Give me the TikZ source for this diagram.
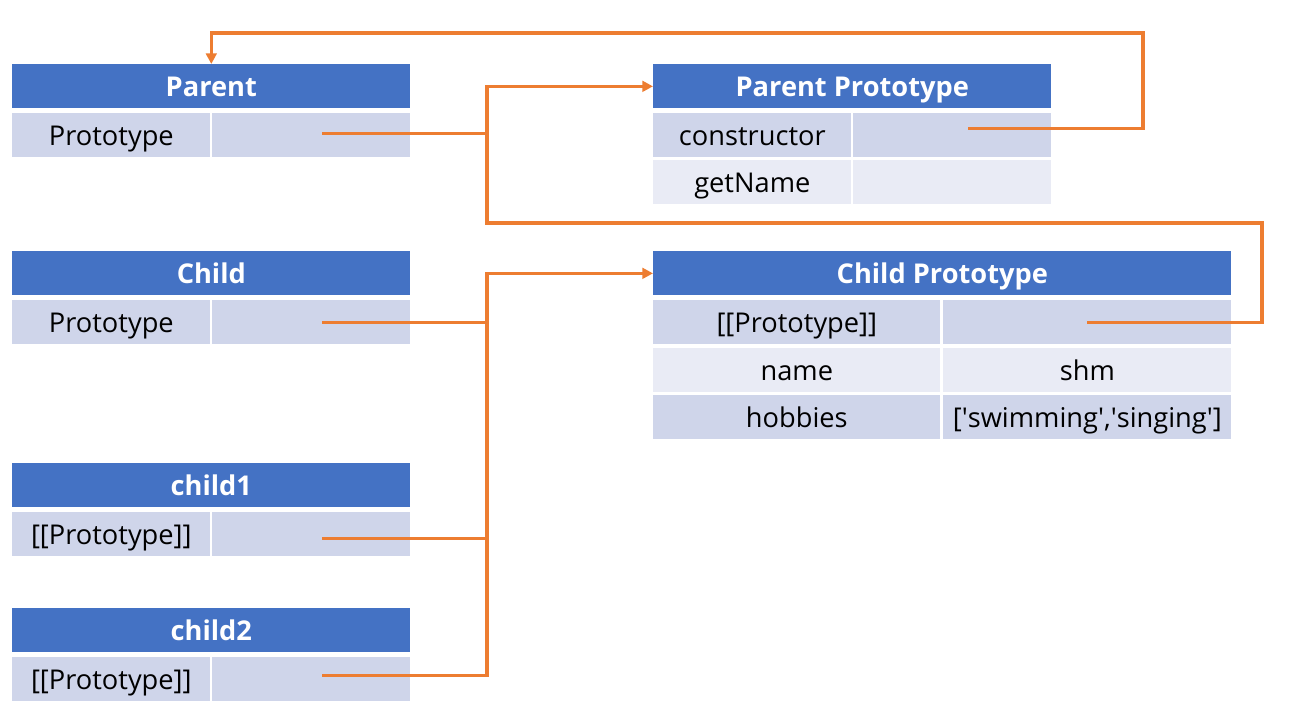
\documentclass[tikz,border=0pt]{standalone}
\usepackage{fontspec}
\setmainfont{Open Sans}
\usetikzlibrary{arrows.meta}
\definecolor{hdblue}{HTML}{4472C4}
\definecolor{rowdark}{HTML}{CFD5EA}
\definecolor{rowlight}{HTML}{E9EBF5}
\definecolor{linkorange}{HTML}{ED7D31}

\begin{document}
\begin{tikzpicture}[x=0.02cm,y=-0.02cm,
    hdbox/.style={fill=hdblue,text=white,font=\bfseries\fontsize{15.5}{18}\selectfont,
      minimum width=7.96cm,minimum height=0.88cm,anchor=north west,inner sep=0pt,
      text height=14pt,text depth=3pt},
    rowbox/.style={fill=rowdark,font=\fontsize{15.5}{18}\selectfont,
      minimum width=3.96cm,minimum height=0.88cm,anchor=north west,inner sep=0pt,
      text height=14pt,text depth=3pt},
    lightbox/.style={rowbox,fill=rowlight},
    link/.style={draw=linkorange,line width=1.8pt},
    tip/.style={-{Triangle[length=6pt,width=6pt]}}]
        \useasboundingbox (0,0) rectangle (1289,727);
        % Parent
        \node[hdbox] (ph) at (12,64) {Parent};
        \node[rowbox] (pk) at (12,113) {Prototype};
        \node[rowbox] (pv) at (212,113) {};
        % Parent Prototype
        \node[hdbox] (pph) at (653,64) {Parent Prototype};
        \node[rowbox] (ppck) at (653,113) {constructor};
        \node[rowbox] (ppc) at (853,113) {};
        \node[lightbox] (ppgk) at (653,160) {getName};
        \node[lightbox] (ppgv) at (853,160) {};
        % Child
        \node[hdbox] (ch) at (12,251) {Child};
        \node[rowbox] (ck) at (12,300) {Prototype};
        \node[rowbox] (cv) at (212,300) {};
        % Child Prototype
        \node[hdbox,minimum width=11.56cm] (cph) at (653,251) {Child Prototype};
        \node[rowbox,minimum width=5.74cm] (cpk) at (653,300) {[[Prototype]]};
        \node[rowbox,minimum width=5.76cm] (cpv) at (943,300) {};
        \node[lightbox,minimum width=5.74cm] (cpnk) at (653,348) {name};
        \node[lightbox,minimum width=5.76cm] (cpnv) at (943,348) {shm};
        \node[rowbox,minimum width=5.74cm] (cphk) at (653,395) {hobbies};
        \node[rowbox,minimum width=5.76cm] (cphv) at (943,395)
          {[\textquotesingle swimming\textquotesingle,\textquotesingle singing\textquotesingle]};
        % child1, child2
        \node[hdbox] (c1h) at (12,463) {child1};
        \node[rowbox] (c1k) at (12,512) {[[Prototype]]};
        \node[rowbox] (c1v) at (212,512) {};
        \node[hdbox] (c2h) at (12,608) {child2};
        \node[rowbox] (c2k) at (12,657) {[[Prototype]]};
        \node[rowbox] (c2v) at (212,657) {};

        \coordinate (busA) at (487,223);
        \coordinate (busB) at (487,276);
        \coordinate (cpR) at (1262,223);
        \coordinate (ppR) at (1143,33);
        % links to Parent Prototype
        \draw[link,tip] (cpv.center) -| (cpR) -- (busA) |- (pph.west);
        \draw[link] ([xshift=2.2mm,yshift=0.4mm]pv.center) -- ([yshift=0.4mm]pv.center -| busA);
        % constructor back to Parent
        \draw[link,tip] ([xshift=3.2mm,yshift=1.4mm]ppc.center) -| (ppR) -| (ph.north);
        % links to Child Prototype
        \draw[link,tip] ([xshift=2.2mm,yshift=0.8mm]c2v.center) -| (busB |- cph.west) -- (cph.west);
        \draw[link] ([xshift=2.2mm]cv.center) -- (cv.center -| busB);
        \draw[link] ([xshift=2.2mm,yshift=-0.8mm]c1v.center) -- ([yshift=-0.8mm]c1v.center -| busB);
      \end{tikzpicture}
\end{document}
